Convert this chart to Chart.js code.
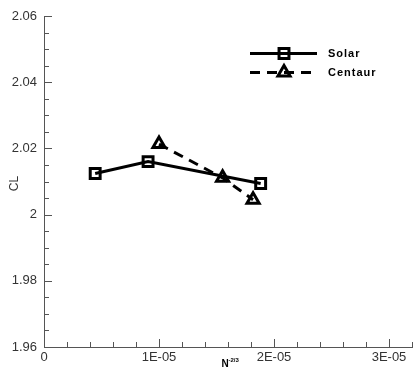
<!DOCTYPE html>
<html>
<head>
<meta charset="utf-8">
<script src="https://cdn.jsdelivr.net/npm/chart.js@4/dist/chart.umd.min.js"></script>
<style>
  html, body { margin: 0; padding: 0; background: #fff; }
  #wrap { width: 415px; height: 369px; }
</style>
</head>
<body>
<div id="wrap"><canvas id="clChart" width="415" height="369"></canvas></div>
<script>
// grid convergence: lift coefficient vs N^-2/3
const solarX = [0.445e-5, 0.905e-5, 1.884e-5];
const solarCL = [2.0124, 2.0160, 2.0094];
const centaurX = [1.0e-5, 1.553e-5, 1.818e-5];
const centaurCL = [2.0213, 2.0111, 2.0045];

const seriesNames = ['Solar', 'Centaur'];
const xMajorTicks = [0, 1e-5, 2e-5, 3e-5];
const xTickLabels = ['0', '1E-05', '2E-05', '3E-05'];
const yMajorTicks = [1.96, 1.98, 2.0, 2.02, 2.04, 2.06];
const yTickLabels = ['1.96', '1.98', '2', '2.02', '2.04', '2.06'];

const AXIS_COLOR = '#555';
const TEXT_COLOR = '#333';
const DASH = [10, 7];

function majorIndex(v, majors, step) {
  return majors.findIndex(m => Math.abs(m - v) < step / 10);
}

// tecplot style ticks pointing into the plot, long on labelled values
const inwardTicks = {
  id: 'inwardTicks',
  beforeDatasetsDraw(chart) {
    const { ctx, chartArea, scales } = chart;
    ctx.save();
    ctx.strokeStyle = AXIS_COLOR;
    ctx.lineWidth = 1;
    ctx.beginPath();
    scales.x.ticks.forEach(t => {
      const len = majorIndex(t.value, xMajorTicks, 2e-6) >= 0 ? 8 : 5;
      const px = Math.round(scales.x.getPixelForValue(t.value)) + 0.5;
      ctx.moveTo(px, chartArea.bottom);
      ctx.lineTo(px, chartArea.bottom - len);
    });
    scales.y.ticks.forEach(t => {
      const len = majorIndex(t.value, yMajorTicks, 0.005) >= 0 ? 8 : 5;
      const py = Math.round(scales.y.getPixelForValue(t.value)) + 0.5;
      ctx.moveTo(chartArea.left, py);
      ctx.lineTo(chartArea.left + len, py);
    });
    ctx.stroke();
    ctx.restore();
  }
};

// axis titles (with superscript) and the line/symbol legend
const annotations = {
  id: 'annotations',
  afterDraw(chart) {
    const { ctx } = chart;
    ctx.save();

    ctx.fillStyle = '#000';
    ctx.textBaseline = 'alphabetic';
    ctx.font = 'bold 10px Arial, "Liberation Sans", sans-serif';
    ctx.fillText('N', 221.5, 366.5);
    ctx.font = 'bold 6px Arial, "Liberation Sans", sans-serif';
    ctx.fillText('-2/3', 228.5, 361.5);

    ctx.save();
    ctx.translate(15, 183.5);
    ctx.rotate(-Math.PI / 2);
    ctx.fillStyle = TEXT_COLOR;
    ctx.font = '12px Arial, "Liberation Sans", sans-serif';
    ctx.textAlign = 'center';
    ctx.textBaseline = 'middle';
    ctx.fillText('CL', 0, 0);
    ctx.restore();

    const rows = [53.5, 72.5];
    chart.data.datasets.forEach((ds, i) => {
      const y = rows[i];
      ctx.save();
      ctx.strokeStyle = ds.borderColor;
      ctx.lineWidth = ds.borderWidth;
      ctx.setLineDash(ds.borderDash || []);
      ctx.beginPath();
      ctx.moveTo(250, y);
      ctx.lineTo(317, y);
      ctx.stroke();
      ctx.setLineDash([]);
      ctx.lineWidth = ds.pointBorderWidth;
      ctx.strokeStyle = ds.pointBorderColor;
      ctx.fillStyle = ds.pointBackgroundColor;
      Chart.helpers.drawPoint(ctx, {
        pointStyle: ds.pointStyle, rotation: 0,
        radius: ds.pointRadius, borderWidth: ds.pointBorderWidth
      }, 284, y);
      ctx.restore();

      ctx.fillStyle = '#000';
      ctx.font = 'bold 11px Arial, "Liberation Sans", sans-serif';
      ctx.letterSpacing = '1px';
      ctx.textBaseline = 'middle';
      ctx.fillText(ds.label, 328, y + 0.5);
    });
    ctx.restore();
  }
};

const toPoints = (xs, ys) => xs.map((x, i) => ({ x, y: ys[i] }));

new Chart(document.getElementById('clChart'), {
  type: 'scatter',
  data: {
    datasets: [
      {
        label: seriesNames[0],
        data: toPoints(solarX, solarCL),
        showLine: true,
        borderColor: '#000',
        borderWidth: 3,
        pointStyle: 'rect',
        pointRadius: 7,
        pointBorderWidth: 3,
        pointBorderColor: '#000',
        pointBackgroundColor: 'rgba(0,0,0,0)'
      },
      {
        label: seriesNames[1],
        data: toPoints(centaurX, centaurCL),
        showLine: true,
        borderColor: '#000',
        borderWidth: 3,
        borderDash: DASH,
        pointStyle: 'triangle',
        pointRadius: 7,
        pointBorderWidth: 3,
        pointBorderColor: '#000',
        pointBackgroundColor: 'rgba(0,0,0,0)'
      }
    ]
  },
  options: {
    responsive: false,
    animation: false,
    devicePixelRatio: 1,
    // symbols never touch the frame, so no room is reserved for them
    layout: { autoPadding: false, padding: { top: 16, right: 1, left: 0, bottom: 0 } },
    plugins: { legend: { display: false }, tooltip: { enabled: false } },
    scales: {
      x: {
        type: 'linear',
        min: 0,
        max: 3.2e-5,
        afterFit: s => { s.height = 22; },
        grid: { drawOnChartArea: false, drawTicks: false },
        border: { color: AXIS_COLOR, width: 1 },
        ticks: {
          stepSize: 2e-6,
          autoSkip: false,
          maxRotation: 0,
          padding: 3,
          color: TEXT_COLOR,
          font: { family: 'Arial, "Liberation Sans", sans-serif', size: 13 },
          callback: v => {
            const k = majorIndex(v, xMajorTicks, 2e-6);
            return k >= 0 ? xTickLabels[k] : '';
          }
        }
      },
      y: {
        min: 1.96,
        max: 2.06,
        afterFit: s => { s.width = 44; },
        grid: { drawOnChartArea: false, drawTicks: false },
        border: { color: AXIS_COLOR, width: 1 },
        ticks: {
          stepSize: 0.005,
          autoSkip: false,
          padding: 7,
          color: TEXT_COLOR,
          font: { family: 'Arial, "Liberation Sans", sans-serif', size: 13 },
          callback: v => {
            const k = majorIndex(v, yMajorTicks, 0.005);
            return k >= 0 ? yTickLabels[k] : '';
          }
        }
      }
    }
  },
  plugins: [inwardTicks, annotations]
});
</script>
</body>
</html>
